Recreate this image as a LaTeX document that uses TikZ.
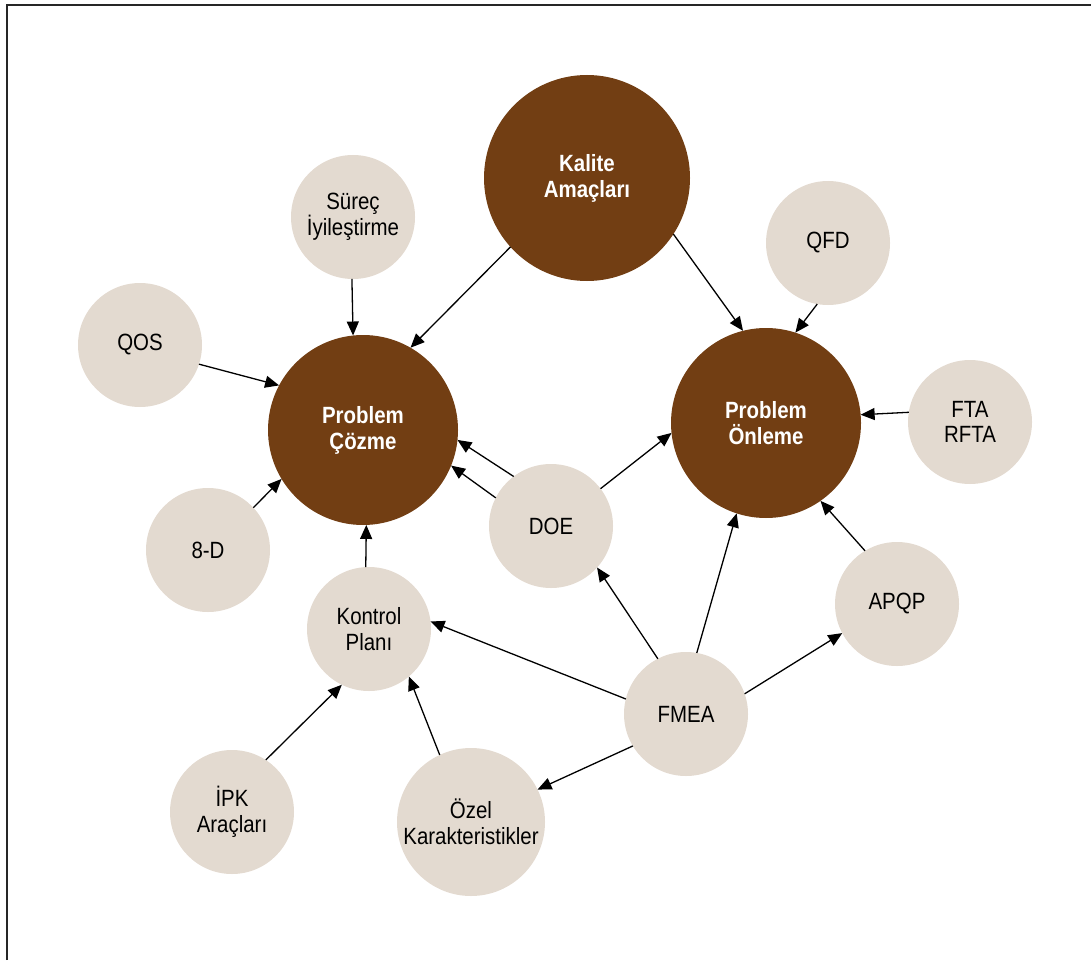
\documentclass[tikz,border=0pt]{standalone}
\usepackage{fontspec}
\setmainfont{Liberation Sans}[FakeStretch=0.87]
\usetikzlibrary{arrows.meta}
\definecolor{kahve}{RGB}{114,62,19}
\definecolor{bej}{RGB}{227,218,208}
\begin{document}
\begin{tikzpicture}[x=1pt, y=-1pt,
        bignode/.style={circle, fill=kahve, text=white, font=\fontsize{23.5}{26}\selectfont\bfseries,
            align=center, minimum size=190pt, inner sep=0pt, outer sep=0pt},
        smallnode/.style={circle, fill=bej, text=black, font=\fontsize{23.5}{25.5}\selectfont,
            align=center, minimum size=124pt, inner sep=0pt, outer sep=0pt},
        link/.style={line width=1.3pt, -{Triangle[length=14pt, width=12pt]}}]
    \useasboundingbox (0,0) rectangle (1091,960);
    \draw[line width=1.2pt, black!85] (7,960) -- (7,5) -- (1091,5);

    \node[bignode, minimum size=206pt] (kalite) at (587,178) {Kalite\\Amaçları};
    \node[bignode] (cozme) at (363,430) {Problem\\Çözme};
    \node[bignode] (onleme) at (766,423) {Problem\\Önleme};

    \node[smallnode] (surec) at (353,217) {Süreç\\İyileştirme};
    \node[smallnode] (qos) at (140,345) {QOS};
    \node[smallnode] (sekizd) at (208,550) {8-D};
    \node[smallnode] (kontrol) at (369,629) {Kontrol\\Planı};
    \node[smallnode] (doe) at (551,526) {DOE};
    \node[smallnode] (qfd) at (828,243) {QFD};
    \node[smallnode] (fta) at (970,422) {FTA\\RFTA};
    \node[smallnode] (apqp) at (897,604) {APQP};
    \node[smallnode] (fmea) at (686,714) {FMEA};
    \node[smallnode] (ipk) at (232,812) {İPK\\Araçları};
    \node[smallnode, minimum size=148pt] (ozel) at (471,822) {Özel\\Karakteristikler};

    \draw[link] (kalite.222.6) -- (cozme.60);
    \draw[link] (kalite.-33) -- (onleme.104);
    \draw[link] (surec.-91) -- (cozme.96.6);
    \draw[link] (qos.-18.4) -- (cozme.152);
    \draw[link] (sekizd.43) -- (cozme.211.5);
    \draw[link] (kontrol.93) -- (cozme.-88);
    \draw[link] (doe.127.8) -- (cozme.-6);
    \draw[link] (doe.153) -- (cozme.-22.7);
    \draw[link] (doe.37.8) -- (onleme.186.7);
    \draw[link] (qfd.260.8) -- (onleme.72.1);
    \draw[link] (fta.171.7) -- (onleme.5.9);
    \draw[link] (apqp.121.4) -- (onleme.-55.5);
    \draw[link] (fmea.19.3) -- (apqp.208.2);
    \draw[link] (fmea.80.8) -- (onleme.252.8);
    \draw[link] (fmea.117.8) -- (doe.-42.4);
    \draw[link] (fmea.166.2) -- (kontrol.7.2);
    \draw[link] (fmea.211.1) -- (ozel.26.9);
    \draw[link] (ozel.115.9) -- (kontrol.-50);
    \draw[link] (ipk.57.3) -- (kontrol.244.3);
\end{tikzpicture}
\end{document}
